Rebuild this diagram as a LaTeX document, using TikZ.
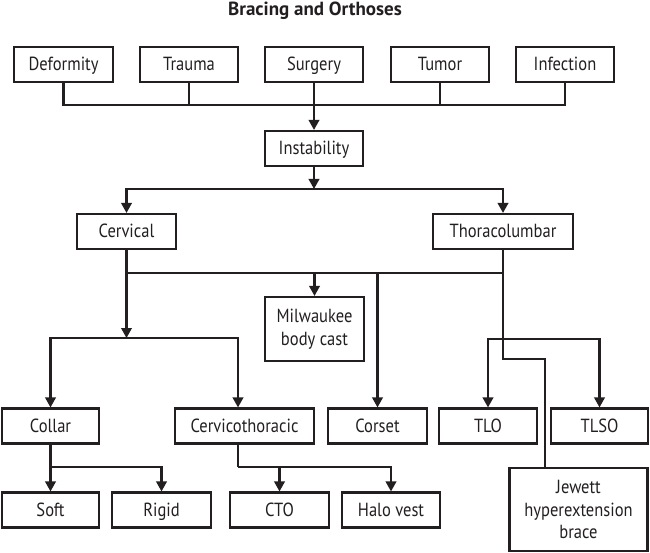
\documentclass[tikz,border=0pt]{standalone}
\usepackage{fontspec}
\setmainfont{PT Sans}[FakeStretch=0.87]
\newfontfamily\titlefont{PT Sans}
\usetikzlibrary{arrows.meta}
\definecolor{ink}{HTML}{231F20}
\begin{document}
\begin{tikzpicture}[x=1pt,y=-1pt,
  every node/.style={text=ink},
  box/.style={draw=ink,line width=2.1pt,rectangle,inner sep=0pt,align=center,
    font=\fontsize{19}{22.5}\selectfont,minimum height=35pt},
  onebox/.style={box,text height=13pt,text depth=0pt},
  conn/.style={draw=ink,line width=2.1pt},
  arr/.style={conn,-{Triangle[width=10.5pt,length=10pt]}}]
\useasboundingbox (0,0) rectangle (650,553);
\node[font=\titlefont\bfseries\fontsize{19}{22}\selectfont] (title) at (315,10.5) {Bracing and Orthoses};
% row 1
\node[onebox,minimum width=99pt] (def) at (63.5,64.5) {Deformity};
\node[onebox,minimum width=98pt] (tra) at (189,64.5) {Trauma};
\node[onebox,minimum width=98pt] (sur) at (314,64.5) {Surgery};
\node[onebox,minimum width=98pt] (tum) at (440,64.5) {Tumor};
\node[onebox,minimum width=98pt] (inf) at (565,64.5) {Infection};
\node[onebox,minimum width=98pt] (ins) at (314,148.5) {Instability};
\node[onebox,minimum width=99pt] (cer) at (126.5,231.5) {Cervical};
\node[onebox,minimum width=140pt] (tho) at (503,231.5) {Thoracolumbar};
\node[box,minimum width=99pt,minimum height=64pt] (mil) at (314.5,329) {Milwaukee\\body cast};
\node[onebox,minimum width=97pt] (col) at (50.5,426) {Collar};
\node[onebox,minimum width=139pt] (cth) at (244.5,426) {Cervicothoracic};
\node[onebox,minimum width=99pt] (cor) at (377.5,426) {Corset};
\node[onebox,minimum width=98pt] (tlo) at (488,426) {TLO};
\node[onebox,minimum width=97pt] (tls) at (599.5,426) {TLSO};
\node[onebox,minimum width=97pt] (sof) at (50.5,510) {Soft};
\node[onebox,minimum width=99pt] (rig) at (161.5,510) {Rigid};
\node[onebox,minimum width=99pt] (cto) at (279.5,510) {CTO};
\node[onebox,minimum width=98pt] (hal) at (391,510) {Halo vest};
\node[box,minimum width=138pt,minimum height=83pt] (jew) at (578.5,509.5) {Jewett\\hyperextension\\brace};
% coordinates of junctions
\coordinate (bus1) at (314,105);
\coordinate (split1) at (314,189);
\coordinate (bus2) at (126.5,273);
\coordinate (cbr) at (126.5,338);
\coordinate (tbr) at (503,339);
\coordinate (jbend) at (503,359);
\coordinate (colbr) at (50.5,467);
\coordinate (ctbr) at (238,467);
% row 1 to instability
\draw[conn] (def.south) |- (inf.south |- bus1) -- (inf.south);
\draw[conn] (tra.south) -- (tra.south |- bus1);
\draw[conn] (tum.south) -- (tum.south |- bus1);
\draw[arr] (sur.south) -- (ins.north);
% instability split
\draw[arr] (ins.south) -- (split1);
\draw[conn] (cer.north |- split1) -- (tho.north |- split1);
\draw[arr] (split1) -| (cer.north);
\draw[arr] (split1) -| (tho.north);
% second bus
\draw[arr] (cer.south) -- (cbr);
\draw[conn] (bus2) -- (tho.south |- bus2);
\draw[arr] (mil.north |- bus2) -- (mil.north);
\draw[arr] (cor.north |- bus2) -- (cor.north);
% cervical bracket
\draw[conn] (col.north |- cbr) -- (ctbr |- cbr);
\draw[arr] (cbr) -| (col.north);
\draw[arr] (cbr) -| ([xshift=-6.5pt]cth.north);
% thoracolumbar
\draw[conn] (tho.south) -- (jbend) -| ([xshift=-33.5pt]jew.north);
\draw[conn] (tlo.north |- tbr) -- (tls.north |- tbr);
\draw[arr] (tbr) -| (tlo.north);
\draw[arr] (tbr) -| (tls.north);
% collar
\draw[conn] (col.south) -- (colbr);
\draw[arr] (col.south) -- (sof.north);
\draw[arr] (colbr) -| (rig.north);
% cervicothoracic
\draw[conn] ([xshift=-6.5pt]cth.south) -- (ctbr);
\draw[arr] (ctbr) -| (cto.north);
\draw[arr] (ctbr) -| (hal.north);
\end{tikzpicture}
\end{document}
